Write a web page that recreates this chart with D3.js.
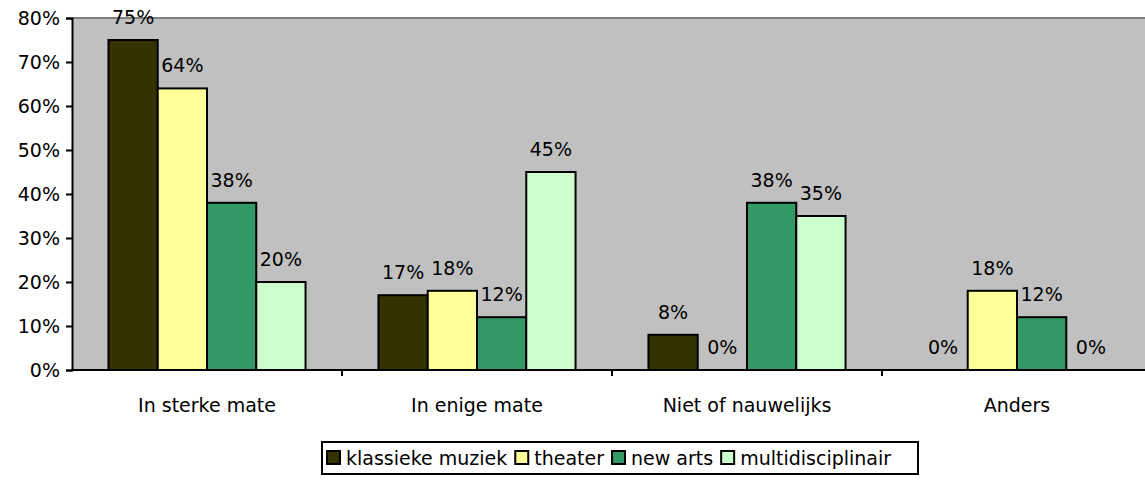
<!DOCTYPE html>
<html>
<head>
<meta charset="utf-8">
<script src="https://cdn.jsdelivr.net/npm/d3@7"></script>
<style>
  body { margin: 0; background: #fff; }
  svg { display: block; font-family: Tahoma, "DejaVu Sans", sans-serif; }
</style>
</head>
<body>
<div id="chart"></div>
<script>
// data
const categories = ['In sterke mate', 'In enige mate', 'Niet of nauwelijks', 'Anders'];
const seriesNames = ['klassieke muziek', 'theater', 'new arts', 'multidisciplinair'];
const klassiekeMuziek = [75, 17, 8, 0];
const theater = [64, 18, 0, 18];
const newArts = [38, 12, 38, 12];
const multidisciplinair = [20, 45, 35, 0];
const yTicks = [0, 10, 20, 30, 40, 50, 60, 70, 80];

const seriesValues = [klassiekeMuziek, theater, newArts, multidisciplinair];
const colors = ['#333300', '#FFFF99', '#339966', '#CCFFCC'];

const width = 1145;
const height = 481;
const margin = { left: 72, top: 18, right: -7, bottom: 111 };
const fontSize = 19;

const svg = d3.select('#chart').append('svg')
  .attr('width', width)
  .attr('height', height);

const x0 = d3.scaleBand()
  .domain(categories)
  .range([margin.left, width - margin.right]);

const x1 = d3.scaleBand()
  .domain(seriesNames)
  .range([0, x0.bandwidth()])
  .paddingOuter(0.74);

const y = d3.scaleLinear()
  .domain([0, 80])
  .range([height - margin.bottom, margin.top]);

// plot background
svg.append('rect')
  .attr('x', margin.left)
  .attr('y', margin.top)
  .attr('width', width - margin.right - margin.left)
  .attr('height', y(0) - margin.top)
  .attr('fill', '#C0C0C0');

svg.append('line')
  .attr('x1', margin.left).attr('x2', width)
  .attr('y1', margin.top).attr('y2', margin.top)
  .attr('stroke', '#808080').attr('stroke-width', 2);

// bars
const groups = svg.append('g').selectAll('g')
  .data(categories)
  .join('g')
  .attr('transform', d => `translate(${x0(d)},0)`);

groups.selectAll('rect')
  .data((c, ci) => seriesNames.map((s, si) => ({ s, si, v: seriesValues[si][ci] })))
  .join('rect')
  .attr('x', d => x1(d.s))
  .attr('y', d => y(d.v))
  .attr('width', x1.bandwidth())
  .attr('height', d => y(0) - y(d.v))
  .attr('fill', d => colors[d.si])
  .attr('stroke', d => d.v > 0 ? '#000' : 'none')
  .attr('stroke-width', 2);

groups.selectAll('text')
  .data((c, ci) => seriesNames.map((s, si) => ({ s, si, v: seriesValues[si][ci] })))
  .join('text')
  .attr('x', d => x1(d.s) + x1.bandwidth() / 2)
  .attr('y', d => y(d.v) - 16)
  .attr('text-anchor', 'middle')
  .attr('font-size', fontSize)
  .attr('fill', '#000')
  .text(d => d.v + '%');

// y axis
const yAxis = svg.append('g')
  .attr('transform', `translate(${margin.left},0)`)
  .call(d3.axisLeft(y).tickValues(yTicks).tickFormat(d => d + '%').tickSize(6).tickPadding(6));
yAxis.attr('font-family', null).attr('font-size', fontSize);
yAxis.selectAll('path, line').attr('stroke', '#000').attr('stroke-width', 2);
yAxis.selectAll('text').attr('fill', '#000').attr('dy', '0.36em');

// x axis
const xAxis = svg.append('g')
  .attr('transform', `translate(0,${y(0)})`);
xAxis.append('line')
  .attr('x1', margin.left).attr('x2', width)
  .attr('stroke', '#000').attr('stroke-width', 2);
xAxis.selectAll('line.tick')
  .data(categories)
  .join('line')
  .attr('class', 'tick')
  .attr('x1', d => x0(d) + x0.bandwidth()).attr('x2', d => x0(d) + x0.bandwidth())
  .attr('y1', 0).attr('y2', 6)
  .attr('stroke', '#000').attr('stroke-width', 2);
xAxis.selectAll('text')
  .data(categories)
  .join('text')
  .attr('x', d => x0(d) + x0.bandwidth() / 2)
  .attr('y', 42)
  .attr('text-anchor', 'middle')
  .attr('font-size', fontSize)
  .text(d => d);

// legend
const legend = svg.append('g');
legend.append('rect')
  .attr('x', 322).attr('y', 442)
  .attr('width', 596).attr('height', 32)
  .attr('fill', '#fff').attr('stroke', '#000').attr('stroke-width', 2);

let lx = 327;
seriesNames.forEach((name, i) => {
  legend.append('rect')
    .attr('x', lx).attr('y', 451)
    .attr('width', 13).attr('height', 13)
    .attr('fill', colors[i]).attr('stroke', '#000').attr('stroke-width', 2);
  const t = legend.append('text')
    .attr('x', lx + 19).attr('y', 465)
    .attr('font-size', fontSize)
    .text(name);
  lx += 19 + t.node().getComputedTextLength() + 8;
});
</script>
</body>
</html>
